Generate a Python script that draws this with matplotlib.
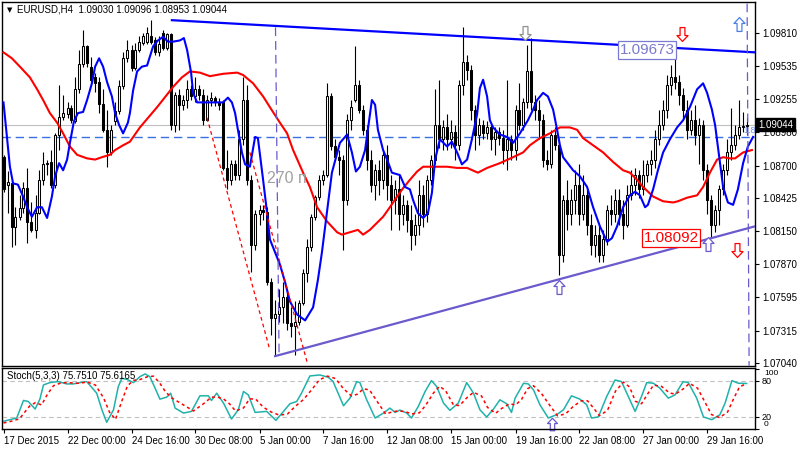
import numpy as np
import matplotlib.pyplot as plt
from matplotlib.path import Path
import matplotlib.transforms as mtransforms

plt.rcParams['font.family'] = ['Liberation Sans', 'DejaVu Sans']

# EURUSD H4 candles, bar 0 = 17 Dec 2015
opens = [1.0877, 1.0854, 1.0855, 1.0818, 1.0827, 1.0834, 1.0851, 1.0823, 1.0816, 1.0830,
         1.0858, 1.0871, 1.0873, 1.0854, 1.0896, 1.0911, 1.0913, 1.0918, 1.0907, 1.0934,
         1.0955, 1.0970, 1.0953, 1.0944, 1.0940, 1.0922, 1.0900, 1.0881, 1.0907, 1.0916,
         1.0937, 1.0960, 1.0967, 1.0952, 1.0967, 1.0973, 1.0974, 1.0979, 1.0975, 1.0965,
         1.0981, 1.0969, 1.0980, 1.0904, 1.0929, 1.0921, 1.0925, 1.0934, 1.0928, 1.0934,
         1.0929, 1.0908, 1.0925, 1.0927, 1.0923, 1.0923, 1.0868, 1.0858, 1.0871, 1.0862,
         1.0892, 1.0925, 1.0858, 1.0803, 1.0829, 1.0833, 1.0831, 1.0772, 1.0742, 1.0745,
         1.0751, 1.0760, 1.0738, 1.0735, 1.0739, 1.0755, 1.0780, 1.0802, 1.0827, 1.0844,
         1.0858, 1.0862, 1.0928, 1.0886, 1.0877, 1.0875, 1.0841, 1.0908, 1.0925, 1.0938,
         1.0917, 1.0900, 1.0875, 1.0854, 1.0866, 1.0858, 1.0879, 1.0854, 1.0841, 1.0850,
         1.0829, 1.0837, 1.0824, 1.0812, 1.0820, 1.0845, 1.0829, 1.0858, 1.0875, 1.0904,
         1.0892, 1.0902, 1.0892, 1.0898, 1.0887, 1.0938, 1.0957, 1.0950, 1.0917, 1.0896,
         1.0904, 1.0897, 1.0902, 1.0892, 1.0898, 1.0893, 1.0883, 1.0892, 1.0883, 1.0917,
         1.0904, 1.0923, 1.0949, 1.0923, 1.0917, 1.0908, 1.0875, 1.0871, 1.0896, 1.0887,
         1.0795, 1.0841, 1.0829, 1.0841, 1.0854, 1.0829, 1.0845, 1.0820, 1.0803, 1.0812,
         1.0795, 1.0808, 1.0833, 1.0829, 1.0841, 1.0829, 1.0820, 1.0845, 1.0854, 1.0862,
         1.0850, 1.0862, 1.0871, 1.0875, 1.0892, 1.0904, 1.0917, 1.0938, 1.0944, 1.0940,
         1.0929, 1.0917, 1.0900, 1.0908, 1.0896, 1.0904, 1.0866, 1.0841, 1.0820, 1.0833,
         1.0850, 1.0866, 1.0881, 1.0887, 1.0896, 1.0902, 1.09030]
highs = [1.0879, 1.0865, 1.0857, 1.0835, 1.0845, 1.0856, 1.0868, 1.0839, 1.0845, 1.0866,
         1.0881, 1.0875, 1.0883, 1.0897, 1.0938, 1.0929, 1.0923, 1.0921, 1.0944, 1.0967,
         1.0984, 1.0971, 1.0961, 1.0948, 1.0944, 1.0934, 1.0917, 1.0904, 1.0923, 1.0942,
         1.0965, 1.0975, 1.0971, 1.0973, 1.0979, 1.0981, 1.0986, 1.0992, 1.0978, 1.0979,
         1.0984, 1.0981, 1.0981, 1.0932, 1.0934, 1.0929, 1.0942, 1.0938, 1.0944, 1.0938,
         1.0934, 1.0929, 1.0932, 1.0928, 1.0927, 1.0925, 1.0883, 1.0875, 1.0875, 1.0900,
         1.0944, 1.0938, 1.0862, 1.0833, 1.0837, 1.0837, 1.0835, 1.0776, 1.0757, 1.0766,
         1.0772, 1.0766, 1.0751, 1.0756, 1.0757, 1.0783, 1.0808, 1.0829, 1.0845, 1.0862,
         1.0866, 1.0939, 1.0931, 1.0892, 1.0883, 1.0879, 1.0913, 1.0925, 1.0970, 1.0942,
         1.0921, 1.0904, 1.0883, 1.0871, 1.0875, 1.0883, 1.0887, 1.0862, 1.0858, 1.0862,
         1.0845, 1.0841, 1.0837, 1.0829, 1.0858, 1.0854, 1.0862, 1.0879, 1.0934, 1.0942,
         1.0908, 1.0913, 1.0908, 1.0904, 1.0942, 1.0986, 1.0963, 1.0954, 1.0921, 1.0910,
         1.0908, 1.0907, 1.0904, 1.0902, 1.0902, 1.0900, 1.0942, 1.0896, 1.0921, 1.0939,
         1.0927, 1.0971, 1.0977, 1.0929, 1.0925, 1.0913, 1.0883, 1.0900, 1.0902, 1.0892,
         1.0845, 1.0858, 1.0850, 1.0866, 1.0871, 1.0862, 1.0850, 1.0829, 1.0820, 1.0820,
         1.0816, 1.0837, 1.0845, 1.0850, 1.0850, 1.0841, 1.0854, 1.0866, 1.0868, 1.0866,
         1.0875, 1.0875, 1.0883, 1.0900, 1.0917, 1.0925, 1.0946, 1.0954, 1.0967, 1.0946,
         1.0935, 1.0925, 1.0917, 1.0921, 1.0910, 1.0908, 1.0871, 1.0845, 1.0837, 1.0854,
         1.0871, 1.0892, 1.0918, 1.0904, 1.0925, 1.0915, 1.09096]
lows = [1.0848, 1.0830, 1.0802, 1.0803, 1.0824, 1.0830, 1.0805, 1.0814, 1.0809, 1.0829,
        1.0854, 1.0862, 1.0851, 1.0851, 1.0883, 1.0908, 1.0910, 1.0906, 1.0906, 1.0931,
        1.0953, 1.0953, 1.0939, 1.0932, 1.0914, 1.0898, 1.0869, 1.0879, 1.0904, 1.0913,
        1.0934, 1.0957, 1.0949, 1.0950, 1.0965, 1.0971, 1.0972, 1.0972, 1.0963, 1.0962,
        1.0967, 1.0967, 1.0900, 1.0898, 1.0900, 1.0917, 1.0918, 1.0925, 1.0923, 1.0925,
        1.0904, 1.0907, 1.0920, 1.0920, 1.0917, 1.0866, 1.0850, 1.0854, 1.0858, 1.0858,
        1.0887, 1.0854, 1.0781, 1.0799, 1.0820, 1.0824, 1.0770, 1.0728, 1.0710, 1.0739,
        1.0738, 1.0732, 1.0726, 1.0711, 1.0736, 1.0753, 1.0772, 1.0798, 1.0824, 1.0841,
        1.0854, 1.0860, 1.0883, 1.0875, 1.0862, 1.0799, 1.0837, 1.0900, 1.0923, 1.0914,
        1.0896, 1.0866, 1.0848, 1.0841, 1.0845, 1.0850, 1.0841, 1.0816, 1.0829, 1.0816,
        1.0820, 1.0814, 1.0799, 1.0803, 1.0812, 1.0818, 1.0823, 1.0854, 1.0871, 1.0885,
        1.0883, 1.0883, 1.0885, 1.0875, 1.0883, 1.0929, 1.0942, 1.0908, 1.0883, 1.0887,
        1.0892, 1.0892, 1.0883, 1.0879, 1.0887, 1.0871, 1.0866, 1.0875, 1.0875, 1.0900,
        1.0900, 1.0918, 1.0917, 1.0908, 1.0892, 1.0869, 1.0866, 1.0868, 1.0883, 1.0778,
        1.0789, 1.0816, 1.0820, 1.0829, 1.0820, 1.0824, 1.0812, 1.0795, 1.0793, 1.0789,
        1.0789, 1.0803, 1.0820, 1.0823, 1.0820, 1.0808, 1.0818, 1.0841, 1.0845, 1.0843,
        1.0845, 1.0856, 1.0862, 1.0868, 1.0887, 1.0900, 1.0910, 1.0929, 1.0934, 1.0921,
        1.0910, 1.0892, 1.0896, 1.0887, 1.0871, 1.0858, 1.0829, 1.0809, 1.0814, 1.0820,
        1.0845, 1.0862, 1.0875, 1.0883, 1.0892, 1.0898, 1.08953]
closes = [1.0850, 1.0856, 1.0818, 1.0827, 1.0834, 1.0851, 1.0823, 1.0816, 1.0830, 1.0858,
          1.0871, 1.0872, 1.0854, 1.0896, 1.0911, 1.0914, 1.0918, 1.0908, 1.0934, 1.0955,
          1.0970, 1.0956, 1.0942, 1.0939, 1.0922, 1.0900, 1.0881, 1.0900, 1.0916, 1.0937,
          1.0960, 1.0967, 1.0952, 1.0967, 1.0974, 1.0979, 1.0981, 1.0974, 1.0965, 1.0972,
          1.0969, 1.0980, 1.0904, 1.0929, 1.0921, 1.0925, 1.0934, 1.0928, 1.0934, 1.0929,
          1.0908, 1.0925, 1.0927, 1.0923, 1.0921, 1.0868, 1.0858, 1.0871, 1.0862, 1.0892,
          1.0925, 1.0858, 1.0803, 1.0829, 1.0833, 1.0831, 1.0772, 1.0742, 1.0745, 1.0751,
          1.0760, 1.0738, 1.0735, 1.0739, 1.0755, 1.0780, 1.0802, 1.0827, 1.0844, 1.0858,
          1.0862, 1.0928, 1.0886, 1.0877, 1.0875, 1.0841, 1.0908, 1.0919, 1.0938, 1.0917,
          1.0900, 1.0875, 1.0854, 1.0866, 1.0858, 1.0879, 1.0854, 1.0841, 1.0850, 1.0829,
          1.0837, 1.0824, 1.0812, 1.0820, 1.0845, 1.0829, 1.0858, 1.0875, 1.0904, 1.0892,
          1.0902, 1.0892, 1.0898, 1.0887, 1.0938, 1.0957, 1.0950, 1.0917, 1.0896, 1.0904,
          1.0897, 1.0902, 1.0892, 1.0898, 1.0893, 1.0883, 1.0892, 1.0883, 1.0917, 1.0904,
          1.0923, 1.0949, 1.0923, 1.0917, 1.0908, 1.0875, 1.0871, 1.0896, 1.0887, 1.0795,
          1.0841, 1.0829, 1.0841, 1.0854, 1.0829, 1.0845, 1.0820, 1.0803, 1.0812, 1.0795,
          1.0808, 1.0833, 1.0829, 1.0841, 1.0829, 1.0820, 1.0845, 1.0854, 1.0862, 1.0850,
          1.0862, 1.0871, 1.0875, 1.0892, 1.0904, 1.0917, 1.0938, 1.0944, 1.0940, 1.0929,
          1.0917, 1.0900, 1.0908, 1.0896, 1.0904, 1.0866, 1.0841, 1.0820, 1.0833, 1.0850,
          1.0866, 1.0881, 1.0887, 1.0896, 1.0902, 1.0903, 1.09044]

# fast (blue) and slow (red) averages, read at bar positions
blue_idx = [0, 1.6, 2.4, 3.6, 4.9, 5.9, 7.1, 8.4, 9.6, 10.9, 12.1, 12.9, 13.9, 14.9, 15.9,
            16.6, 17.6, 18.6, 19.9, 20.9, 22.1, 22.9, 23.9, 24.9, 25.9, 27.1, 27.9, 28.9,
            29.9, 31.1, 31.6, 32.4, 33.4, 34.6, 35.9, 37.4, 38.6, 39.9, 41.1, 42.4, 44.1,
            45.1, 45.9, 46.9, 47.4, 48.4, 49.9, 52.4, 54.9, 56.1, 57.1, 57.9, 58.4, 59.6,
            60.4, 61.6, 62.9, 63.6, 64.9, 65.9, 66.6, 69.1, 70.4, 71.6, 73.4, 75.4, 77.4,
            78.6, 79.6, 80.6, 82.1, 84.1, 85.9, 87.1, 88.1, 89.1, 90.4, 91.4, 92.1, 92.9,
            93.6, 94.9, 95.9, 97.1, 99.1, 100.4, 101.6, 102.4, 103.6, 104.9, 106.1, 107.1,
            107.9, 109.1, 110.9, 112.1, 113.4, 114.6, 115.9, 117.1, 118.4, 119.1, 119.9,
            120.9, 121.6, 122.4, 124.1, 125.9, 127.4, 129.1, 131.1, 132.4, 133.4, 134.9,
            136.1, 137.4, 138.4, 139.1, 139.9, 142.4, 144.1, 145.9, 147.4, 149.1, 150.9,
            152.1, 153.4, 154.9, 156.6, 157.9, 159.1, 160.4, 161.1, 162.4, 163.6, 164.9,
            166.6, 168.4, 169.9, 171.6, 173.4, 174.9, 175.9, 177.1, 177.9, 178.6, 179.9,
            181.1, 182.4, 183.6, 184.9, 186.1, 187.4]
blue_val = [1.0923, 1.0869, 1.0855, 1.0854, 1.0844, 1.0835, 1.0827, 1.0835, 1.0835, 1.0826,
            1.0844, 1.0861, 1.0872, 1.0866, 1.0875, 1.0889, 1.0907, 1.0914, 1.0915, 1.0925,
            1.0939, 1.0953, 1.0960, 1.0953, 1.0940, 1.0928, 1.0914, 1.0904, 1.0897, 1.0906,
            1.0914, 1.0933, 1.0949, 1.0953, 1.0954, 1.0970, 1.0975, 1.0978, 1.0974, 1.0974,
            1.0975, 1.0977, 1.0967, 1.0948, 1.0931, 1.0923, 1.0923, 1.0923, 1.0923, 1.0927,
            1.0923, 1.0914, 1.0904, 1.0881, 1.0871, 1.0869, 1.0894, 1.0893, 1.0858, 1.0830,
            1.0808, 1.0787, 1.0772, 1.0756, 1.0745, 1.0740, 1.0751, 1.0774, 1.0797, 1.0824,
            1.0864, 1.0889, 1.0896, 1.0881, 1.0865, 1.0869, 1.0883, 1.0908, 1.0925, 1.0921,
            1.0900, 1.0883, 1.0875, 1.0864, 1.0862, 1.0852, 1.0850, 1.0841, 1.0830, 1.0826,
            1.0830, 1.0847, 1.0875, 1.0892, 1.0886, 1.0890, 1.0881, 1.0871, 1.0875, 1.0892,
            1.0913, 1.0935, 1.0942, 1.0928, 1.0908, 1.0902, 1.0896, 1.0894, 1.0889, 1.0897,
            1.0908, 1.0917, 1.0925, 1.0931, 1.0928, 1.0917, 1.0900, 1.0887, 1.0877, 1.0866,
            1.0861, 1.0852, 1.0835, 1.0819, 1.0806, 1.0809, 1.0819, 1.0835, 1.0845, 1.0848,
            1.0845, 1.0835, 1.0837, 1.0850, 1.0866, 1.0881, 1.0892, 1.0902, 1.0908, 1.0919,
            1.0934, 1.0939, 1.0931, 1.0917, 1.0904, 1.0886, 1.0852, 1.0839, 1.0837, 1.0850,
            1.0872, 1.0886, 1.0894]
red_idx = [0, 2.1, 4.1, 6.6, 8.4, 9.9, 11.6, 13.4, 14.9, 16.6, 18.4, 20.9, 22.9, 24.6, 26.6,
           27.9, 29.9, 31.6, 34.1, 38.4, 42.4, 44.6, 46.6, 49.1, 51.6, 54.9, 58.4, 59.9,
           62.4, 64.9, 66.6, 69.1, 70.9, 72.4, 74.9, 76.6, 78.4, 80.9, 83.4, 84.6, 86.6,
           88.6, 89.9, 91.6, 93.4, 94.9, 96.6, 98.4, 99.9, 101.6, 103.4, 104.9, 107.4,
           110.9, 113.4, 115.9, 118.6, 120.9, 124.1, 127.4, 129.9, 131.6, 134.1, 136.6,
           139.1, 141.6, 143.4, 144.9, 147.4, 149.9, 152.4, 154.9, 156.6, 158.4, 159.9,
           162.4, 164.9, 167.4, 168.6, 170.9, 173.4, 174.9, 176.6, 178.4, 179.9, 181.6,
           182.9, 184.9, 187.1]
red_val = [1.0965, 1.0960, 1.0953, 1.0944, 1.0934, 1.0925, 1.0914, 1.0906, 1.0897, 1.0886,
           1.0879, 1.0876, 1.0875, 1.0877, 1.0879, 1.0883, 1.0887, 1.0890, 1.0902, 1.0919,
           1.0936, 1.0944, 1.0949, 1.0948, 1.0945, 1.0947, 1.0948, 1.0946, 1.0939, 1.0928,
           1.0919, 1.0906, 1.0897, 1.0883, 1.0864, 1.0852, 1.0835, 1.0823, 1.0814, 1.0812,
           1.0814, 1.0816, 1.0812, 1.0816, 1.0822, 1.0827, 1.0835, 1.0844, 1.0851, 1.0858,
           1.0865, 1.0869, 1.0869, 1.0869, 1.0868, 1.0868, 1.0864, 1.0868, 1.0872, 1.0877,
           1.0881, 1.0887, 1.0893, 1.0897, 1.0902, 1.0902, 1.0900, 1.0893, 1.0887, 1.0881,
           1.0873, 1.0866, 1.0864, 1.0858, 1.0852, 1.0844, 1.0840, 1.0839, 1.0840, 1.0843,
           1.0845, 1.0852, 1.0864, 1.0875, 1.0877, 1.0876, 1.0876, 1.0881, 1.0883]

# Stoch(5,3,3): main (teal) and signal (red)
k_idx = [0, 1.6, 3.3, 5, 6.2, 7.9, 9.1, 10, 11.6, 13.7, 15.8, 17.5, 19.1, 20.8, 23.3, 24.6,
         25.8, 27.5, 28.7, 29.6, 30.8, 32.5, 34.1, 35.4, 36.6, 37.9, 39.1, 40.8, 41.8, 42.9,
         45, 47, 49.1, 51.2, 52, 53.3, 55, 57, 58.7, 60, 61.2, 62.9, 65.8, 68.1, 70, 71.6,
         73.3, 74.5, 76.6, 79.1, 81.2, 82.4, 85, 86.6, 88.3, 89.1, 90.8, 92.9, 95, 96.6,
         97.9, 99.1, 100.8, 102, 103.7, 105.4, 107, 108.3, 110, 111.6, 113.7, 115.8, 117.5,
         119.1, 120.8, 122.5, 124.1, 125.8, 127, 127.9, 130, 131.2, 132.5, 134.1, 136.2,
         138.3, 140, 142, 144.1, 145.8, 147, 148.7, 150.8, 152.9, 154.5, 156.2, 157.9,
         159.5, 160.8, 162.5, 164.1, 166.2, 167.9, 169.9, 171.2, 173.3, 175, 177.1, 179.1,
         180.4, 182.1, 183.7, 185.8]
k_val = [12.8, 15.5, 18.3, 47.5, 45.8, 33.2, 49.7, 73.4, 77.2, 78.9, 75, 75, 77.2, 78.9, 59.6,
         32, 11.1, 32, 70.6, 84.4, 82.7, 77.2, 87.1, 91.6, 87.1, 67.9, 49.7, 53, 59.6, 34.8,
         26.5, 29.3, 55.2, 55.2, 47.5, 59.6, 43.1, 16.6, 32, 62.4, 56.8, 27.6, 29.3, 14.4,
         29.3, 42, 45.8, 59.6, 88.3, 89.9, 86.1, 78.9, 38.7, 51.3, 78.9, 77.2, 48.6, 18.3,
         26.5, 34.8, 27.6, 31.5, 26.5, 18.3, 37.6, 62.4, 80.5, 70.6, 43.1, 31, 43.1, 77.2,
         59.6, 32, 20, 33.2, 48.6, 42, 27.6, 51.3, 76.1, 75, 65.1, 40.3, 18.3, 23.8, 32,
         55.2, 49.7, 40.3, 18.3, 20, 54.1, 81.6, 78.9, 54.1, 29.3, 54.1, 77.2, 76.1, 67.9,
         51.3, 56.8, 78.9, 77.2, 51.3, 20, 15.5, 23.8, 43.1, 80.5, 76.1, 75.751]
d_idx = [0, 2, 4, 6.5, 8, 9.5, 11, 12.5, 14.5, 16.5, 18.5, 21, 23, 25, 26.5, 28, 29.5, 31,
         32.5, 34, 36, 37.5, 39, 40.5, 42, 43.5, 45.5, 47.5, 50, 52, 53.5, 55, 56.5, 58, 60,
         61.5, 63, 65, 67, 69, 71, 73, 75, 77, 79, 81, 83, 85, 87, 88.5, 90, 91.5, 93.5,
         95.5, 97, 98.5, 100.5, 102, 104, 105.5, 107.5, 109, 110.5, 112.5, 114, 116, 117.5,
         119.5, 121, 123, 124.5, 126.5, 128, 129.5, 131, 132.5, 134.5, 136.5, 138.5, 140.5,
         142.5, 144.5, 146, 147.5, 149, 151, 153, 155, 156.5, 158, 159.5, 161, 162.5, 164.5,
         166.5, 168, 170, 171.5, 173.5, 175.5, 177, 179, 181, 182.5, 184, 185.8]
d_val = [10, 13, 17, 38, 44, 40, 58, 72, 77, 77, 76, 78, 73, 52, 28, 16, 45, 72, 81, 82, 87,
         88, 77, 62, 52, 46, 38, 30, 42, 53, 53, 50, 42, 30, 35, 50, 50, 36, 28, 23, 25, 38,
         49, 65, 82, 88, 84, 67, 55, 58, 67, 65, 45, 25, 28, 30, 29, 25, 27, 39, 60, 71, 64,
         40, 39, 53, 61, 55, 36, 26, 34, 42, 40, 49, 67, 72, 59, 40, 22, 25, 38, 47, 47, 35,
         22, 31, 63, 78, 70, 46, 42, 58, 73, 71, 60, 58, 67, 76, 68, 43, 24, 19, 28, 50, 70,
         75.6165]

# drawn objects: (bar, price) anchors
top_line = ([42.1, 187.9], [1.0992, 1.0965])
bottom_line = ([67.9, 187.9], [1.0710, 1.0819])
red_dash_1 = ([50.9, 66.6], [1.0910, 1.0715])
red_dash_2 = ([61.6, 75.9], [1.0881, 1.0705])
measure_1 = ([68.0, 68.9], [1.0986, 1.0710])
measure_2 = ([185.9, 186.4], [1.1006, 1.0702])
hline_price = 1.0894
last_price = 1.09044

price_ticks = [1.09810, 1.09535, 1.09255, 1.08980, 1.08700, 1.08425,
               1.08150, 1.07870, 1.07595, 1.07315, 1.07040]
time_ticks = [0, 16, 32, 48, 64, 80, 96, 112, 128, 144, 160, 176]
time_labels = ['17 Dec 2015', '22 Dec 00:00', '24 Dec 16:00', '30 Dec 08:00',
               '5 Jan 00:00', '7 Jan 16:00', '12 Jan 08:00', '15 Jan 00:00',
               '19 Jan 16:00', '22 Jan 08:00', '27 Jan 00:00', '29 Jan 16:00']

W, H = 800, 450
fig = plt.figure(figsize=(8, 4.5), dpi=100)
ax = fig.add_axes([2 / W, 1 - 366 / H, 753 / W, 364 / H])
axs = fig.add_axes([2 / W, 1 - 429 / H, 753 / W, 61 / H])
xlim = (-0.375, 187.875)

# arrow markers like the terminal's arrow objects
up_verts = [(0, 1), (0.8, 0.15), (0.35, 0.15), (0.35, -1), (-0.35, -1),
            (-0.35, 0.15), (-0.8, 0.15), (0, 1)]
up_arrow = Path(up_verts, closed=True)
down_arrow = Path([(x, -y) for x, y in up_verts], closed=True)

# ---- price panel ----
o, h, l, c = map(np.array, (opens, highs, lows, closes))
idx = np.arange(len(c))
bull = c >= o
bottom = np.minimum(o, c)
height = np.maximum(np.abs(c - o), 0.00002)

ax.axhline(last_price, color='#c0c0c0', lw=0.8, zorder=1)
ax.axhline(hline_price, color='#3a6fe0', lw=1.0, ls=(0, (6, 3.5)), zorder=1)
ax.vlines(idx, l, h, color='black', lw=0.8, zorder=2)
ax.bar(idx[bull], height[bull], bottom=bottom[bull], width=0.5, color='white',
       edgecolor='black', linewidth=0.75, zorder=3)
ax.bar(idx[~bull], height[~bull], bottom=bottom[~bull], width=0.5, color='black',
       edgecolor='black', linewidth=0.75, zorder=3)

ax.plot(red_idx, red_val, color='#ff0000', lw=1.5, zorder=4)
ax.plot(blue_idx, blue_val, color='#0000ff', lw=1.5, zorder=4)

ax.plot(*top_line, color='#0000ff', lw=1.6, zorder=5)
ax.plot(*bottom_line, color='#6a5acd', lw=1.6, zorder=5)
ax.plot(*red_dash_1, color='#ff0000', lw=0.9, ls=(0, (3, 2.5)), zorder=5)
ax.plot(*red_dash_2, color='#ff0000', lw=0.9, ls=(0, (3, 2.5)), zorder=5)
ax.plot(*measure_1, color='#6a5acd', lw=0.9, ls=(0, (7, 4)), zorder=5)
ax.plot(*measure_2, color='#6a5acd', lw=0.9, ls=(0, (7, 4)), zorder=5)

ax.text(65.9, 1.0859, '270 п', color='#a0a0a0', fontsize=11.5, va='center', zorder=6)
ax.text(160.9, 1.0967, '1.09673', color='#7a7ad0', fontsize=11, ha='center',
        va='center', zorder=6,
        bbox=dict(boxstyle='square,pad=0.12', fc='white', ec='#7a7ad0', lw=0.9))
ax.text(166.9, 1.0809, '1.08092', color='#ff0000', fontsize=11, ha='center',
        va='center', zorder=6,
        bbox=dict(boxstyle='square,pad=0.12', fc='white', ec='#ff0000', lw=0.9))
ax.text(184.9, 1.0899, '1.8', color='#6f95e8', fontsize=6.5, va='center', zorder=6,
        clip_on=True)

arrows = [(130.4, 1.0981, down_arrow, '#909090'),
          (169.6, 1.0980, down_arrow, '#ff0000'),
          (183.9, 1.0989, up_arrow, '#4a7fe6'),
          (138.9, 1.0768, up_arrow, '#6a5acd'),
          (176.1, 1.0804, up_arrow, '#6a5acd'),
          (183.4, 1.0799, down_arrow, '#ff0000')]
for ax_x, ax_y, mk, col in arrows:
    ax.plot(ax_x, ax_y, marker=mk, ms=10, mfc='white', mec=col, mew=0.9, zorder=7)

ax.set_xlim(*xlim)
ax.set_ylim(1.070173, 1.100727)
ax.set_xticks([])
ax.yaxis.tick_right()
ax.set_yticks(price_ticks)
ax.set_yticklabels(['%.5f' % p for p in price_ticks])
ax.tick_params(axis='y', direction='out', length=3, width=0.8, pad=2, labelsize=7)
for s in ax.spines.values():
    s.set_linewidth(1.0)

trans = mtransforms.blended_transform_factory(ax.transAxes, ax.transData)
ax.text(1.004, last_price, '1.09044', transform=trans, color='white', fontsize=7,
        va='center', ha='left', zorder=10,
        bbox=dict(boxstyle='square,pad=0.2', fc='black', ec='black'))

fig.text(7 / W, 1 - 10 / H, '▼', fontsize=5, va='center', family='DejaVu Sans')
fig.text(17 / W, 1 - 10 / H, 'EURUSD,H4  1.09030 1.09096 1.08953 1.09044',
         fontsize=7, va='center')

# ---- stochastic panel ----
axs.axhline(80, color='#c0c0c0', lw=0.8, ls=(0, (4, 3)))
axs.axhline(20, color='#c0c0c0', lw=0.8, ls=(0, (4, 3)))
axs.plot(k_idx, k_val, color='#20b2aa', lw=1.1)
axs.plot(d_idx, d_val, color='#ff0000', lw=1.1, ls=(0, (2, 2)))
axs.plot(137.1, 7.5, marker=up_arrow, ms=9, mfc='white', mec='#6a5acd', mew=0.9,
         clip_on=False)
axs.set_xlim(*xlim)
axs.set_ylim(0.7, 101.5)
axs.yaxis.tick_right()
axs.set_yticks([100, 80, 20, 0])
axs.set_yticklabels(['', '80', '20', ''])
axs.tick_params(axis='y', direction='out', length=3, width=0.8, pad=2, labelsize=6.5)
strans = mtransforms.blended_transform_factory(axs.transAxes, axs.transData)
axs.text(1.012, 92, '100', transform=strans, fontsize=6, va='center')
axs.text(1.012, 7, '0', transform=strans, fontsize=6, va='center')
axs.set_xticks(time_ticks)
axs.set_xticklabels(time_labels, ha='left')
axs.tick_params(axis='x', direction='out', length=3, width=0.8, pad=2, labelsize=7)
axs.text(5 / 753, 0.87, 'Stoch(5,3,3) 75.7510 75.6165', transform=axs.transAxes,
         fontsize=7, va='center')
for s in axs.spines.values():
    s.set_linewidth(1.0)

fig.savefig('out.png', dpi=100)
